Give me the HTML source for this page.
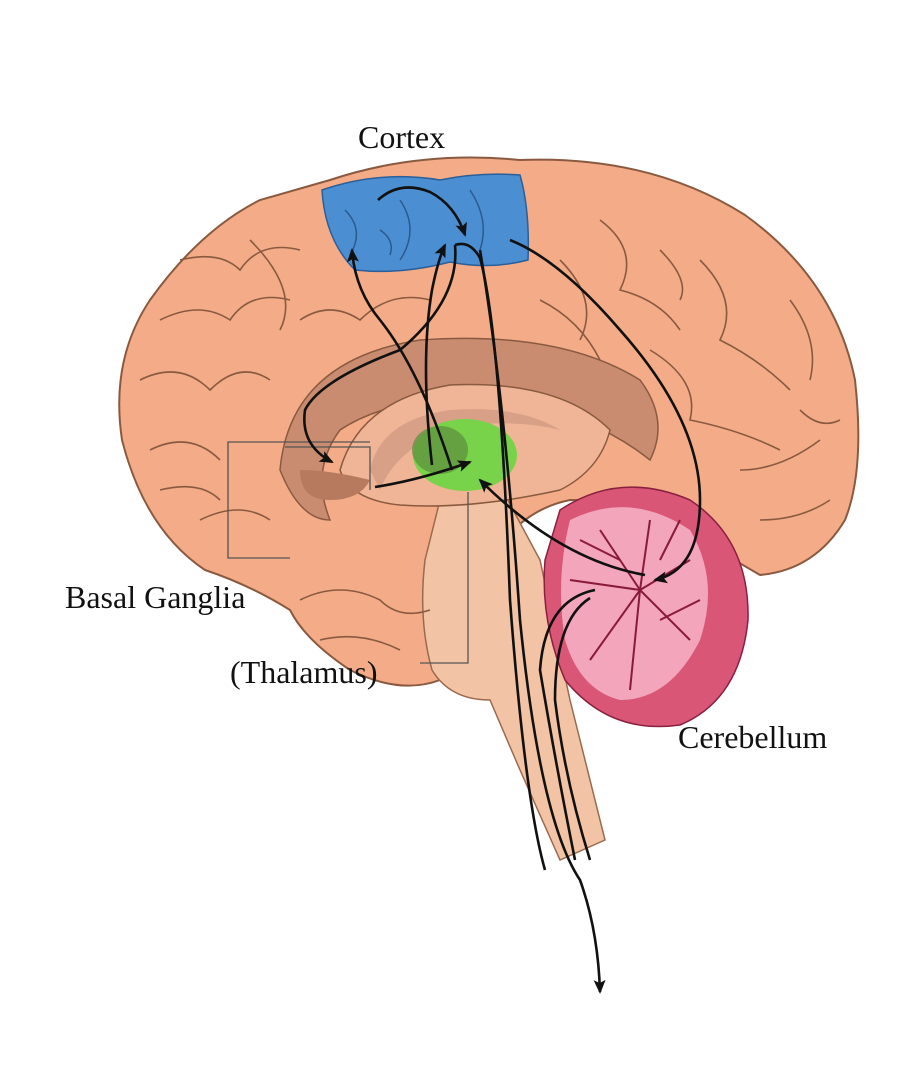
<!DOCTYPE html>
<html><head><meta charset="utf-8"><style>
html,body{margin:0;padding:0;background:#fff;width:899px;height:1086px;overflow:hidden}
text{font-family:"Liberation Serif",serif;fill:#111}
</style></head><body>
<svg width="899" height="1086" viewBox="0 0 899 1086">
<defs>
<marker id="b" markerWidth="14" markerHeight="12" refX="12" refY="6" orient="auto" markerUnits="userSpaceOnUse"><path d="M0,0 L14,6 L0,12 L3,6 z" fill="#111"/></marker>
</defs>
<!-- brain -->
<path d="M330,180 Q420,150 520,160 Q650,155 745,215 Q835,280 855,380 Q865,470 845,520 Q815,570 760,575 L700,540 Q640,500 570,500 Q520,510 490,560 Q460,640 440,680 Q400,695 350,670 Q305,640 290,610 Q250,585 205,570 Q145,530 122,440 Q110,360 150,300 Q200,230 260,200 Z" fill="#f3ab88" stroke="#8a5a40" stroke-width="2"/>
<!-- brainstem -->
<path d="M440,500 Q480,480 505,495 L540,560 L570,700 L605,840 L560,860 L520,770 L490,700 Q450,700 432,670 Q418,620 425,560 Z" fill="#f2c3a4" stroke="#9a6a50" stroke-width="1.5"/>
<!-- inner darker limbic -->
<path d="M280,470 Q290,360 420,340 Q560,330 640,380 Q670,420 650,460 Q600,420 520,400 Q400,390 340,430 Q310,470 330,520 Q300,520 280,470 Z" fill="#c98c70" stroke="#8a5a40" stroke-width="1.5"/>
<path d="M340,470 Q360,400 450,385 Q560,380 610,430 Q600,470 560,490 Q470,510 400,505 Q350,500 340,470 Z" fill="#f0b596" stroke="#8a5a40" stroke-width="1.5"/>
<path d="M370,470 Q380,420 450,410 Q520,405 560,430 Q520,420 470,425 Q400,440 380,490 Z" fill="#d9a088"/>
<path d="M300,470 Q330,470 370,480 Q360,500 330,500 Q300,500 300,470 Z" fill="#b87a5e"/>
<!-- gyri lines -->
<g fill="none" stroke="#8a5a40" stroke-width="1.6">
<path d="M160,320 Q200,300 230,320 Q250,290 290,300"/><path d="M140,380 Q180,360 210,390 Q240,360 270,380"/>
<path d="M150,450 Q190,430 220,460"/><path d="M180,260 Q220,250 240,270 Q260,240 300,250"/>
<path d="M600,220 Q640,250 620,290 Q660,300 680,330"/><path d="M560,260 Q600,300 580,340"/>
<path d="M700,260 Q740,300 720,340 Q760,360 790,390"/><path d="M650,350 Q700,380 690,420 Q740,430 780,450"/>
<path d="M740,470 Q780,470 820,440"/><path d="M200,520 Q240,500 270,520"/>
<path d="M300,600 Q340,580 380,600 Q400,620 430,610"/><path d="M250,240 Q300,290 280,330"/>
<path d="M320,640 Q360,630 400,650"/><path d="M760,520 Q800,520 830,500"/><path d="M790,300 Q820,340 810,380"/>
<path d="M300,320 Q330,300 360,320 Q390,290 430,300"/><path d="M540,300 Q580,320 600,360"/><path d="M160,490 Q200,480 220,500"/>
<path d="M660,250 Q690,280 680,300"/><path d="M800,410 Q820,430 840,420"/>
</g>
<!-- cortex blue -->
<path d="M322,190 Q380,170 440,180 Q480,172 520,175 Q530,210 528,260 Q490,270 450,262 Q400,275 355,270 Q325,240 322,190 Z" fill="#4c8ed2" stroke="#2a5f99" stroke-width="1.5"/>
<g fill="none" stroke="#2a5a90" stroke-width="1.5"><path d="M345,210 Q365,230 350,255"/><path d="M400,200 Q420,230 400,260"/><path d="M470,190 Q490,220 480,250"/><path d="M380,230 Q395,240 390,255"/></g>
<!-- thalamus -->
<ellipse cx="465" cy="455" rx="52" ry="36" fill="#78d24a"/>
<ellipse cx="440" cy="450" rx="28" ry="24" fill="#5c8c3c" opacity="0.7"/>
<!-- cerebellum -->
<path d="M560,510 Q620,470 690,500 Q750,540 748,620 Q740,700 680,725 Q610,735 565,680 Q540,620 545,560 Z" fill="#d95677" stroke="#8a2040" stroke-width="1.5"/>
<path d="M570,520 Q630,490 690,530 Q720,580 700,640 Q670,700 620,700 Q580,690 565,640 Q555,580 570,520 Z" fill="#f2a5bb"/>
<g fill="none" stroke="#8a1a3a" stroke-width="2"><path d="M640,590 L600,530"/><path d="M640,590 L650,520"/><path d="M640,590 L690,560"/><path d="M640,590 L690,640"/><path d="M640,590 L630,690"/><path d="M640,590 L590,660"/><path d="M640,590 L570,580"/><path d="M620,560 L580,540"/><path d="M660,560 L680,520"/><path d="M660,620 L700,600"/></g>
<!-- boxes -->
<g fill="none" stroke="#555" stroke-width="1.3">
<path d="M370,442 L228,442 L228,558 L290,558"/>
<path d="M285,447 L370,447 L370,490"/>
<path d="M420,663 L468,663 L468,492"/>
</g>
<!-- arrows -->
<g fill="none" stroke="#111" stroke-width="2.6">
<path d="M378,200 Q400,180 430,192 Q455,205 465,235" marker-end="url(#b)"/>
<path d="M452,470 Q420,370 380,320 Q355,290 352,250" marker-end="url(#b)"/>
<path d="M432,465 Q420,360 432,290 Q438,260 445,245" marker-end="url(#b)"/>
<path d="M455,245 Q460,300 400,350 Q320,380 305,410 Q300,445 332,462" marker-end="url(#b)"/>
<path d="M375,487 Q420,480 470,462" marker-end="url(#b)"/>
<path d="M645,575 Q560,560 480,480" marker-end="url(#b)"/>
<path d="M510,240 Q560,260 620,330 Q700,420 700,500 Q700,570 655,580" marker-end="url(#b)"/>
<path d="M595,590 Q545,600 540,670 Q555,760 575,860"/>
<path d="M590,598 Q555,620 555,700 Q565,780 590,860"/>
<path d="M455,245 Q470,240 480,258 Q500,330 510,600 Q525,800 545,870"/>
<path d="M480,250 Q505,400 520,620 Q540,820 580,880 Q598,930 600,992" marker-end="url(#b)"/>
</g>
<text x="358" y="148" font-size="32">Cortex</text>
<text x="65" y="608" font-size="32">Basal Ganglia</text>
<text x="230" y="683" font-size="32">(Thalamus)</text>
<text x="678" y="748" font-size="32">Cerebellum</text>
</svg>
</body></html>
